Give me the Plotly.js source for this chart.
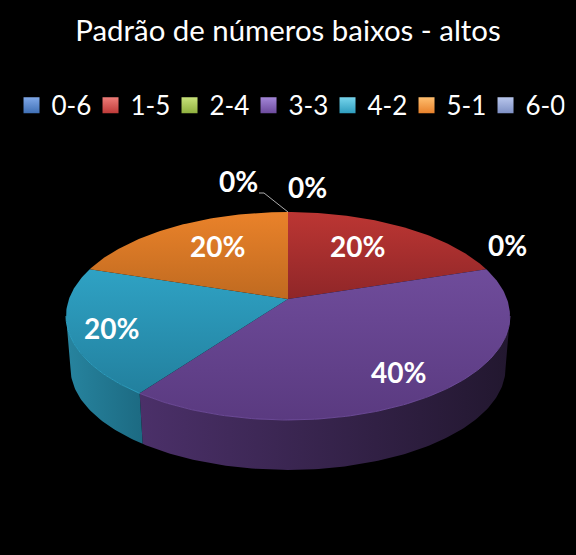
<!DOCTYPE html>
<html>
<head>
<meta charset="utf-8">
<script src="https://cdn.plot.ly/plotly-3.0.1.min.js"></script>
<style>html,body{margin:0;padding:0;background:#000}#chart{width:576px;height:555px}</style>
</head>
<body>
<div id="chart"></div>
<script>
const titleText = 'Padrão de números baixos - altos';
const categories = ['0-6', '1-5', '2-4', '3-3', '4-2', '5-1', '6-0'];
const values = [0, 20, 0, 40, 20, 20, 0];
const swatchColors = ['#3F6FB5', '#BE3A38', '#8FB03E', '#6C4A9C', '#2E9DBE', '#E8812B', '#7E90C4'];
const swatchLights = ['#7FA8E8', '#EE7C78', '#C8E27A', '#A386D8', '#76D4EC', '#FFBE6E', '#B8C6EC'];
const faceTop = ['#3F6FB5', '#BC3633', '#8FB03E', '#6F4C9B', '#2FA2C4', '#EA822A', '#7E90C4'];
const faceBottom = ['#3F6FB5', '#8F2628', '#8FB03E', '#5A3A80', '#22809E', '#BF6A20', '#7E90C4'];
const wallLeft = ['#2A4A7A', '#7A2020', '#5E7428', '#4B3069', '#27849F', '#9A5518', '#55628A'];
const wallRight = ['#2A4A7A', '#7A2020', '#5E7428', '#22172F', '#1C6A82', '#9A5518', '#55628A'];
const labelX = [238, 357, 507, 398, 111, 217, 307];
const labelY = [181, 246, 245, 372, 328, 246, 187];

// pie projection: a flat disc seen in perspective
const apexX = 288, apexY = 299, A = 219, B = 101.2, K = 0.1635;
const ellipseCY = 316, depth = 52, baseScale = 0.98;
const project = deg => {
  const t = deg * Math.PI / 180, d = 1 + K * Math.cos(t);
  return [apexX + A * Math.sin(t) / d, apexY - B * Math.cos(t) / d];
};
const lower = p => [apexX + baseScale * (p[0] - apexX), ellipseCY + baseScale * (p[1] - ellipseCY) + depth];
const arc = (a, b) => {
  const pts = [], n = Math.max(2, Math.ceil(Math.abs(b - a)));
  for (let i = 0; i <= n; i++) pts.push(project(a + (b - a) * i / n));
  return pts;
};
const frontFrom = Math.acos(-K) * 180 / Math.PI, frontTo = 360 - frontFrom;

const total = values.reduce((s, v) => s + v, 0);
const walls = [], faces = [], rims = [], legendItems = [];
let acc = 0;
categories.forEach((name, i) => {
  const a0 = acc / total * 360, a1 = (acc + values[i]) / total * 360;
  acc += values[i];
  if (values[i] > 0) {
    const wa = Math.max(a0, frontFrom), wb = Math.min(a1, frontTo);
    if (wb > wa) {
      const top = arc(wa, wb), bot = top.map(lower).reverse(), poly = top.concat(bot);
      poly.push(top[0]);
      const xs = poly.map(p => p[0]);
      // left-to-right shading across the visible wall
      walls.push({
        type: 'scatter', mode: 'lines', x: xs, y: poly.map(p => p[1]),
        fill: 'toself', line: {width: 0}, showlegend: false, hoverinfo: 'skip',
        fillgradient: {type: 'horizontal', start: Math.min(...xs), stop: Math.max(...xs),
          colorscale: [[0, wallLeft[i]], [1, wallRight[i]]]}
      });
      const r = arc(wa, wb);
      rims.push({
        type: 'scatter', mode: 'lines', x: r.map(p => p[0]), y: r.map(p => p[1]),
        line: {width: 1, color: faceTop[i]}, opacity: 0.9, showlegend: false, hoverinfo: 'skip'
      });
    }
    const edge = arc(a0, a1), poly = [[apexX, apexY]].concat(edge, [[apexX, apexY]]);
    const ys = poly.map(p => p[1]);
    faces.push({
      type: 'scatter', mode: 'lines', x: poly.map(p => p[0]), y: ys,
      fill: 'toself', line: {width: 0}, showlegend: false, hoverinfo: 'skip',
      fillgradient: {type: 'vertical', start: Math.min(...ys), stop: Math.max(...ys),
        colorscale: [[0, faceTop[i]], [1, faceBottom[i]]]}
    });
  }
  legendItems.push({
    type: 'scatter', mode: 'markers', x: [null], y: [null], name: name, hoverinfo: 'skip',
    marker: {symbol: 'square', size: 17, color: swatchLights[i],
      gradient: {type: 'vertical', color: swatchColors[i]}, line: {width: 0}}
  });
});

const leaderStart = project(0);
const leader = {
  type: 'scatter', mode: 'lines', x: [leaderStart[0], 264, 259], y: [leaderStart[1], 193, 193],
  line: {width: 0.8, color: '#D8D8D8'}, showlegend: false, hoverinfo: 'skip'
};

const annotations = categories.map((c, i) => ({
  x: labelX[i], y: labelY[i], xref: 'x', yref: 'y', text: values[i] + '%', showarrow: false,
  font: {family: 'Lato, sans-serif', size: 28, color: '#FFFFFF', weight: 700},
  xanchor: 'center', yanchor: 'middle'
}));

Plotly.newPlot('chart', walls.concat(faces, rims, [leader], legendItems), {
  width: 576, height: 555,
  margin: {l: 0, r: 0, t: 0, b: 0},
  paper_bgcolor: '#000000', plot_bgcolor: '#000000',
  title: {text: titleText, x: 0.5, xanchor: 'center', y: 0.945, yanchor: 'middle',
    font: {family: 'Lato, sans-serif', size: 29.4, color: '#FFFFFF'}},
  xaxis: {range: [0, 576], visible: false, fixedrange: true},
  yaxis: {range: [555, 0], visible: false, fixedrange: true},
  showlegend: true,
  legend: {orientation: 'h', x: 0.02, xanchor: 'left', y: 0.81, yanchor: 'middle',
    entrywidth: 34, entrywidthmode: 'pixels', itemclick: false, itemdoubleclick: false,
    bgcolor: 'rgba(0,0,0,0)', traceorder: 'normal',
    font: {family: 'Lato, sans-serif', size: 26, color: '#FFFFFF'}},
  annotations: annotations,
  hovermode: false
}, {displayModeBar: false, staticPlot: true});
</script>
</body>
</html>
